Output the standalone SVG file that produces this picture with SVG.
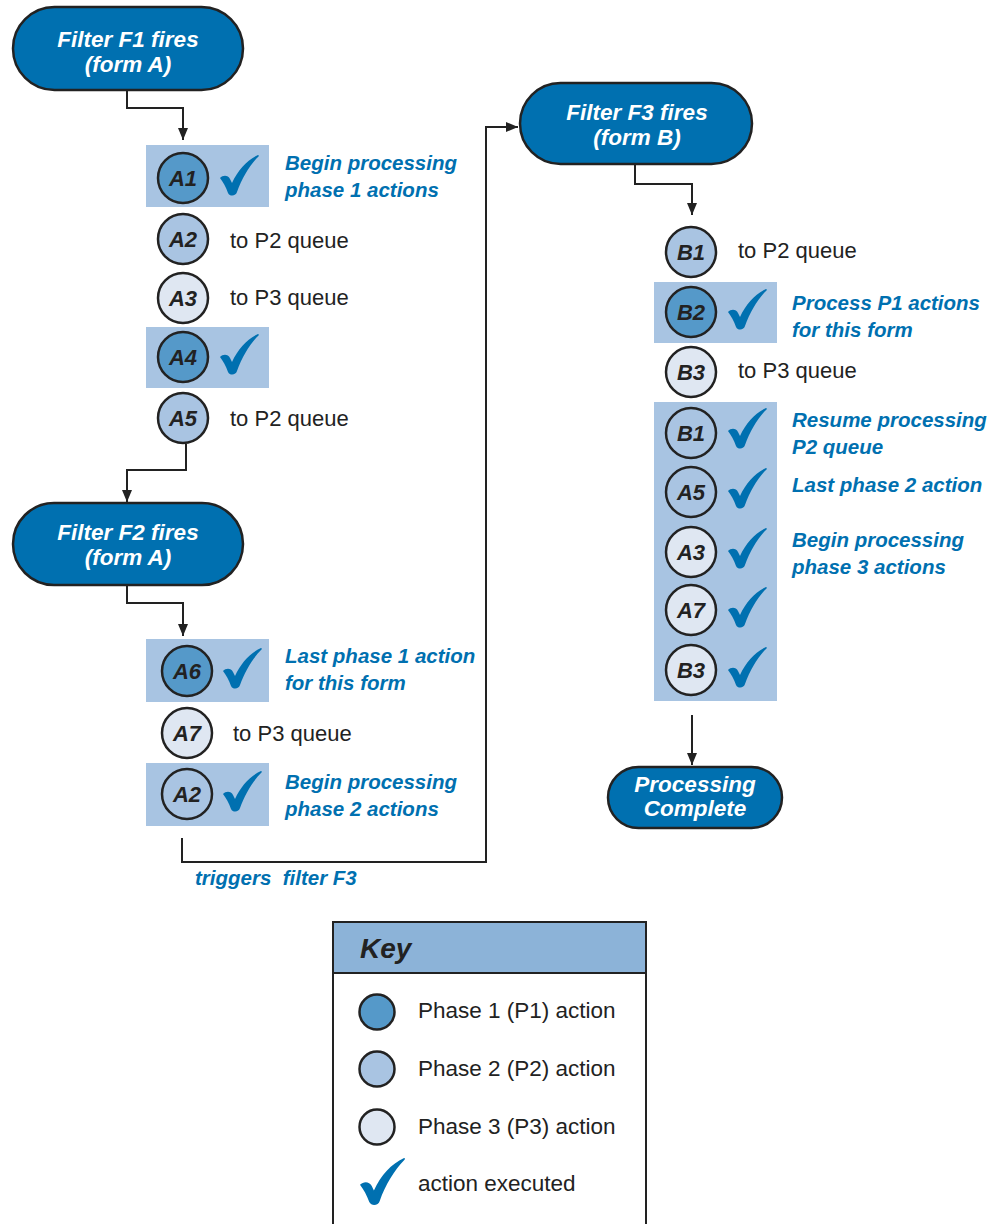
<svg xmlns="http://www.w3.org/2000/svg" width="994" height="1224" viewBox="0 0 994 1224">
<style>
.pill{fill:#0070b0;stroke:#222;stroke-width:2.5}
.pt{font-family:"Liberation Sans",Arial,sans-serif;font-weight:bold;font-style:italic;font-size:22.5px;fill:#fff;text-anchor:middle}
.hl{fill:#a8c4e2}
.c{stroke:#222;stroke-width:2.5}
.p1{fill:#5599c9}
.p2{fill:#a9c4e2}
.p3{fill:#dfe7f2}
.cl{font-family:"Liberation Sans",Arial,sans-serif;font-weight:bold;font-style:italic;font-size:22px;fill:#222;text-anchor:middle}
.bt{font-family:"Liberation Sans",Arial,sans-serif;font-weight:bold;font-style:italic;font-size:20.5px;fill:#0070b0}
.nt{font-family:"Liberation Sans",Arial,sans-serif;font-size:22px;fill:#222}
.kt{font-family:"Liberation Sans",Arial,sans-serif;font-size:22.5px;fill:#222}
.ln{fill:none;stroke:#222;stroke-width:2}
.ck{fill:#0070b0}
</style>
<defs>
<marker id="ah" viewBox="0 0 12 10" refX="12" refY="5" markerWidth="12" markerHeight="10" markerUnits="userSpaceOnUse" orient="auto">
<path d="M0,0 L12,5 L0,10 Z" fill="#222"/>
</marker>
<path id="chk" d="M0,23 C3,20 8,20 10,24 L12,28 C18,15 27,5 38,0 C39,0 39,1 38,2 C30,10 22,23 17,37 C16,41 10,42 8,38 C6,32 3,27 0,23 Z"/>
</defs>

<g id="connectors">
<path class="ln" d="M127,90 V108 H183 V140" marker-end="url(#ah)"/>
<path class="ln" d="M186,444 V470 H127 V502" marker-end="url(#ah)"/>
<path class="ln" d="M127,585 V603 H183 V636" marker-end="url(#ah)"/>
<path class="ln" d="M182,838 V862 H486 V127 H518" marker-end="url(#ah)"/>
<path class="ln" d="M635,164 V184 H692 V215" marker-end="url(#ah)"/>
<path class="ln" d="M692,715 V765" marker-end="url(#ah)"/>
<text class="bt" x="195" y="885" xml:space="preserve">triggers  filter F3</text>
</g>

<g id="F1">
<rect class="pill" x="13" y="7" width="230" height="83" rx="41.5"/>
<text class="pt" x="128" y="47">Filter F1 fires</text>
<text class="pt" x="128" y="72">(form A)</text>
</g>

<g id="A1">
<rect class="hl" x="146" y="145" width="123" height="62"/>
<circle class="c p1" cx="183" cy="178" r="25"/>
<text class="cl" x="183" y="186">A1</text>
<use href="#chk" class="ck" x="220" y="155"/>
<text class="bt" x="285" y="170">Begin processing</text>
<text class="bt" x="285" y="197">phase 1 actions</text>
</g>

<g id="A2">
<circle class="c p2" cx="183" cy="239" r="25"/>
<text class="cl" x="183" y="247">A2</text>
<text class="nt" x="230" y="248">to P2 queue</text>
</g>

<g id="A3">
<circle class="c p3" cx="183" cy="298" r="25"/>
<text class="cl" x="183" y="306">A3</text>
<text class="nt" x="230" y="305">to P3 queue</text>
</g>

<g id="A4">
<rect class="hl" x="146" y="327" width="123" height="61"/>
<circle class="c p1" cx="183" cy="357" r="25"/>
<text class="cl" x="183" y="365">A4</text>
<use href="#chk" class="ck" x="220" y="334"/>
</g>

<g id="A5">
<circle class="c p2" cx="183" cy="418" r="25"/>
<text class="cl" x="183" y="426">A5</text>
<text class="nt" x="230" y="426">to P2 queue</text>
</g>

<g id="F2">
<rect class="pill" x="13" y="503" width="230" height="82" rx="41"/>
<text class="pt" x="128" y="540">Filter F2 fires</text>
<text class="pt" x="128" y="565">(form A)</text>
</g>

<g id="A6">
<rect class="hl" x="146" y="639" width="123" height="63"/>
<circle class="c p1" cx="187" cy="671" r="25"/>
<text class="cl" x="187" y="679">A6</text>
<use href="#chk" class="ck" x="223" y="648"/>
<text class="bt" x="285" y="663">Last phase 1 action</text>
<text class="bt" x="285" y="690">for this form</text>
</g>

<g id="A7">
<circle class="c p3" cx="187" cy="733" r="25"/>
<text class="cl" x="187" y="741">A7</text>
<text class="nt" x="233" y="741">to P3 queue</text>
</g>

<g id="A2b">
<rect class="hl" x="146" y="763" width="123" height="63"/>
<circle class="c p2" cx="187" cy="794" r="25"/>
<text class="cl" x="187" y="802">A2</text>
<use href="#chk" class="ck" x="223" y="771"/>
<text class="bt" x="285" y="789">Begin processing</text>
<text class="bt" x="285" y="816">phase 2 actions</text>
</g>

<g id="F3">
<rect class="pill" x="520" y="83" width="232" height="81" rx="40.5"/>
<text class="pt" x="637" y="120">Filter F3 fires</text>
<text class="pt" x="637" y="145">(form B)</text>
</g>

<g id="B1">
<circle class="c p2" cx="691" cy="252" r="25"/>
<text class="cl" x="691" y="260">B1</text>
<text class="nt" x="738" y="258">to P2 queue</text>
</g>

<g id="B2">
<rect class="hl" x="654" y="282" width="123" height="61"/>
<circle class="c p1" cx="691" cy="312" r="25"/>
<text class="cl" x="691" y="320">B2</text>
<use href="#chk" class="ck" x="728" y="289"/>
<text class="bt" x="792" y="310">Process P1 actions</text>
<text class="bt" x="792" y="337">for this form</text>
</g>

<g id="B3">
<circle class="c p3" cx="691" cy="372" r="25"/>
<text class="cl" x="691" y="380">B3</text>
<text class="nt" x="738" y="378">to P3 queue</text>
</g>

<g id="P2queue">
<rect class="hl" x="654" y="402" width="123" height="299"/>
<circle class="c p2" cx="691" cy="433" r="25"/>
<text class="cl" x="691" y="441">B1</text>
<use href="#chk" class="ck" x="728" y="408"/>
<circle class="c p2" cx="691" cy="492" r="25"/>
<text class="cl" x="691" y="500">A5</text>
<use href="#chk" class="ck" x="728" y="468"/>
<circle class="c p3" cx="691" cy="552" r="25"/>
<text class="cl" x="691" y="560">A3</text>
<use href="#chk" class="ck" x="728" y="528"/>
<circle class="c p3" cx="691" cy="610" r="25"/>
<text class="cl" x="691" y="618">A7</text>
<use href="#chk" class="ck" x="728" y="587"/>
<circle class="c p3" cx="691" cy="670" r="25"/>
<text class="cl" x="691" y="678">B3</text>
<use href="#chk" class="ck" x="728" y="647"/>
<text class="bt" x="792" y="427">Resume processing</text>
<text class="bt" x="792" y="454">P2 queue</text>
<text class="bt" x="792" y="492">Last phase 2 action</text>
<text class="bt" x="792" y="547">Begin processing</text>
<text class="bt" x="792" y="574">phase 3 actions</text>
</g>

<g id="Complete">
<rect class="pill" x="608" y="767" width="174" height="61" rx="30.5"/>
<text class="pt" x="695" y="792">Processing</text>
<text class="pt" x="695" y="816">Complete</text>
</g>

<g id="key">
<rect x="333" y="922" width="313" height="310" fill="#fff" stroke="#222" stroke-width="2"/>
<rect x="333" y="922" width="313" height="51" fill="#8cb3d8" stroke="#222" stroke-width="2"/>
<text x="360" y="958" font-family="'Liberation Sans',Arial,sans-serif" font-weight="bold" font-style="italic" font-size="28" fill="#222">Key</text>
<circle class="c p1" cx="377" cy="1012" r="17.5" stroke-width="2"/>
<circle class="c p2" cx="377" cy="1069" r="17.5" stroke-width="2"/>
<circle class="c p3" cx="377" cy="1127" r="17.5" stroke-width="2"/>
<use href="#chk" class="ck" transform="translate(360,1158) scale(1.16)"/>
<text class="kt" x="418" y="1018">Phase 1 (P1) action</text>
<text class="kt" x="418" y="1076">Phase 2 (P2) action</text>
<text class="kt" x="418" y="1134">Phase 3 (P3) action</text>
<text class="kt" x="418" y="1191">action executed</text>
</g>
</svg>
